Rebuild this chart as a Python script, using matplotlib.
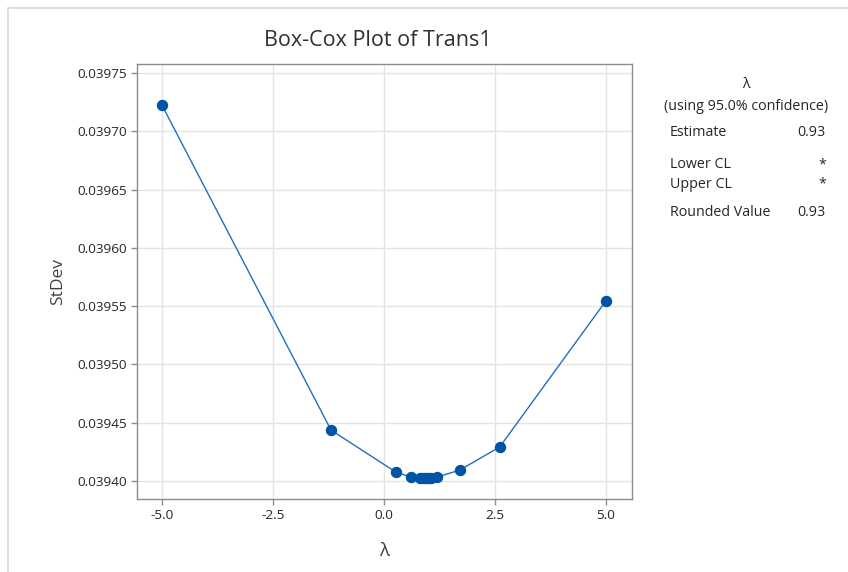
import matplotlib
matplotlib.use("Agg")
import matplotlib.pyplot as plt
from matplotlib.patches import Rectangle

plt.rcParams['font.family'] = ['Open Sans', 'DejaVu Sans']

lambdas = [-5.0, -1.19, 0.27, 0.61, 0.82, 0.88, 0.93, 0.99, 1.06, 1.19, 1.71, 2.61, 5.0]
stdevs = [0.0397226, 0.0394437, 0.0394077, 0.0394034, 0.0394030, 0.0394029, 0.0394029,
          0.0394029, 0.0394030, 0.0394033, 0.0394094, 0.0394292, 0.0395544]
xticks = [-5.0, -2.5, 0.0, 2.5, 5.0]
yticks = [0.03940, 0.03945, 0.03950, 0.03955, 0.03960, 0.03965, 0.03970, 0.03975]

W, H = 848, 572
fig = plt.figure(figsize=(W / 100, H / 100), dpi=100)
fig.patches.append(Rectangle((8 / W, -0.1), 1.2, (H - 8) / H + 0.1, transform=fig.transFigure,
                             fill=False, edgecolor='#d8d8d8', lw=1.2))

ax = fig.add_axes([137 / W, 1 - 499 / H, (632 - 137) / W, (499 - 64) / H])
ax.plot(lambdas, stdevs, color='#1f6fc4', lw=1.0, marker='o', markersize=7.2,
        markerfacecolor='#0054a6', markeredgecolor='#0054a6', zorder=3)
ax.set_xlim(-5.56, 5.59)
ax.set_ylim(0.0393846, 0.0397577)
ax.set_xticks(xticks)
ax.set_xticklabels([f"{v:.1f}" for v in xticks])
ax.set_yticks(yticks)
ax.set_yticklabels([f"{v:.5f}" for v in yticks])
ax.grid(True, color='#e4e4e4', lw=1.0)
ax.set_axisbelow(True)
for s in ax.spines.values():
    s.set_color('#8c8c8c')
    s.set_linewidth(1.0)
ax.tick_params(colors='#8c8c8c', labelcolor='#262626', labelsize=9.7, length=4, width=1)
ax.set_xlabel('λ', fontsize=13.5, color='#404040', labelpad=14)
ax.set_ylabel('StDev', fontsize=12.5, color='#404040', labelpad=8)

fig.text(378 / W, 1 - 40 / H, 'Box-Cox Plot of Trans1', ha='center', va='center',
         fontsize=15.5, color='#303030')

def ft(x, y, s, ha='left'):
    fig.text(x / W, 1 - y / H, s, ha=ha, va='center', fontsize=10.3, color='#262626')

ft(746, 85, 'λ', 'center')
ft(746, 107, '(using 95.0% confidence)', 'center')
ft(670, 133, 'Estimate')
ft(826, 133, '0.93', 'right')
ft(670, 165, 'Lower CL')
ft(826, 165, '*', 'right')
ft(670, 184, 'Upper CL')
ft(826, 184, '*', 'right')
ft(670, 213, 'Rounded Value')
ft(826, 213, '0.93', 'right')

fig.savefig('out.png', dpi=100)
